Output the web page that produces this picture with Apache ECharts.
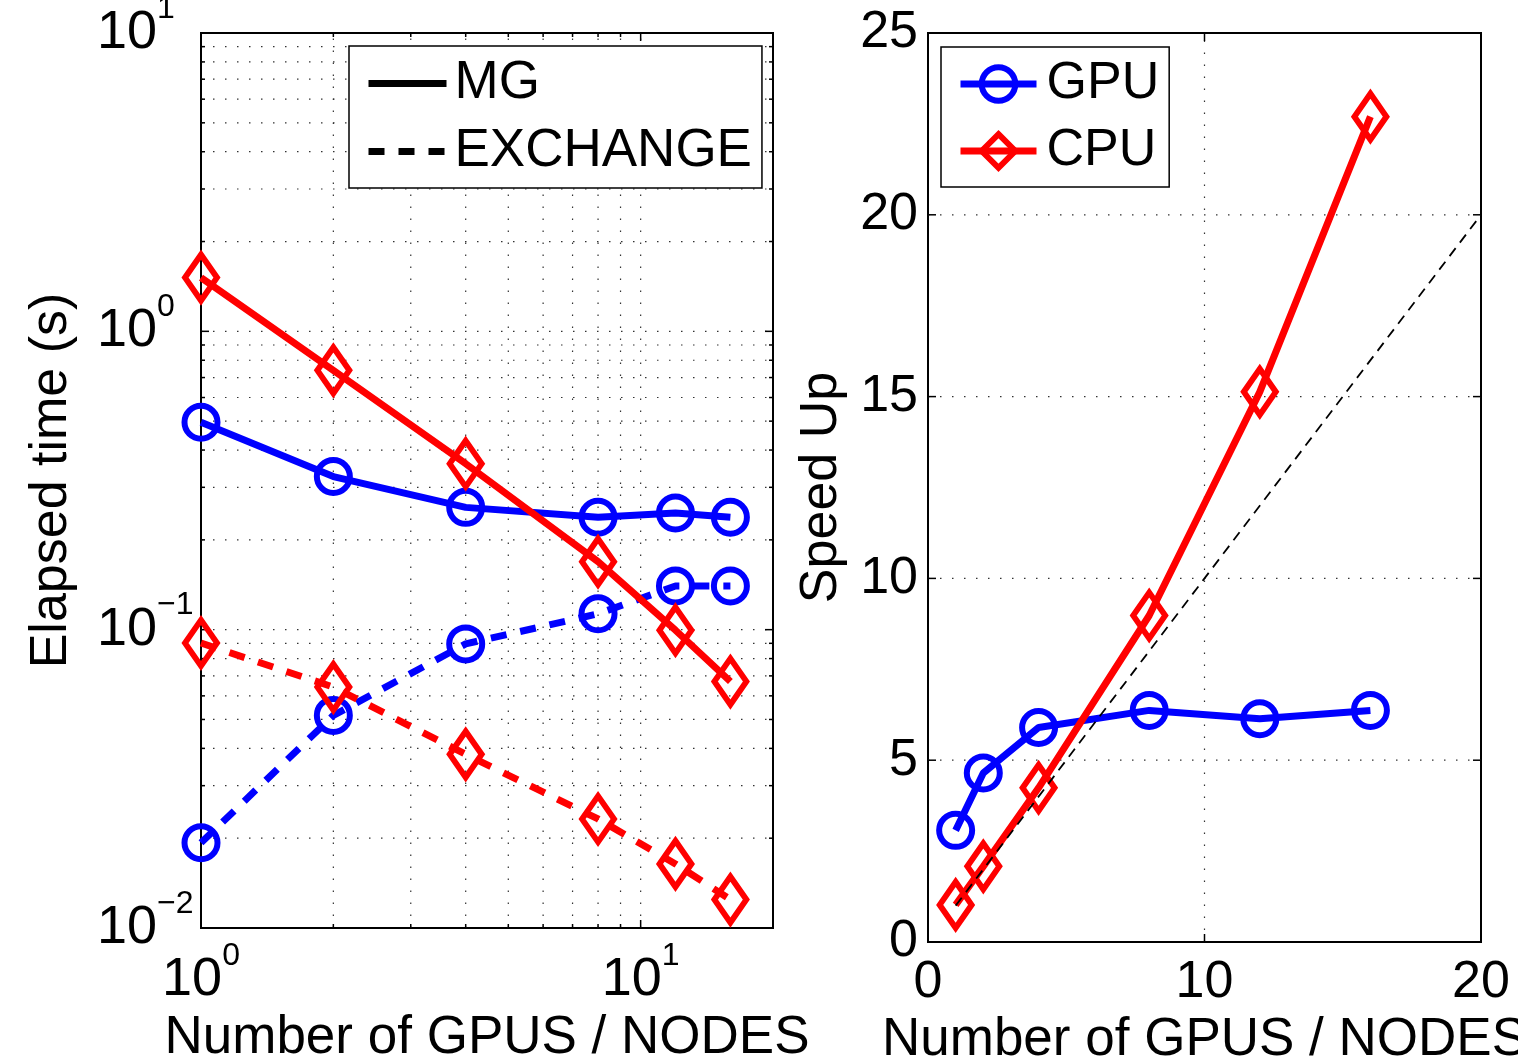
<!DOCTYPE html>
<html>
<head>
<meta charset="utf-8">
<script src="https://cdn.jsdelivr.net/npm/echarts@6/dist/echarts.min.js"></script>
<style>
html, body { margin: 0; padding: 0; background: #fff; overflow: hidden; width: 1518px; height: 1063px; }
#chart { position: absolute; left: 0; top: 0; width: 1518px; height: 1063px; }
</style>
</head>
<body>
<div id="chart"></div>
<script>
// ---------- data ----------
const xCounts = [1, 2, 4, 8, 12, 16];
const gpuMG = [0.496, 0.326, 0.257, 0.238, 0.246, 0.238];
const gpuExchange = [0.0193, 0.0516, 0.0896, 0.113, 0.140, 0.140];
const cpuMG = [1.514, 0.740, 0.360, 0.169, 0.0996, 0.067];
const cpuExchange = [0.0902, 0.0642, 0.0382, 0.0232, 0.0164, 0.01245];
const gpuSpeedup = [3.07, 4.65, 5.90, 6.37, 6.14, 6.37];
const cpuSpeedup = [1.02, 2.08, 4.24, 8.98, 15.13, 22.70];
const idealX = [1, 20];
const idealSpeedup = [1, 20];

// tick values
const leftXTicks = [1, 2, 3, 4, 5, 6, 7, 8, 9, 10, 20];
const leftXMajor = [1, 10];
const leftYTicks = [0.01, 0.02, 0.03, 0.04, 0.05, 0.06, 0.07, 0.08, 0.09,
                    0.1, 0.2, 0.3, 0.4, 0.5, 0.6, 0.7, 0.8, 0.9,
                    1, 2, 3, 4, 5, 6, 7, 8, 9, 10];
const leftYMajor = [0.01, 0.1, 1, 10];
const rightXTicks = [0, 10, 20];
const rightYTicks = [0, 5, 10, 15, 20, 25];

const FONT = "'Liberation Sans', Arial, Helvetica, sans-serif";
const BLUE = '#0000ff';
const RED = '#ff0000';

function pairs(xs, ys) { return xs.map((x, i) => [x, ys[i]]); }

function guideSeries(gi, values, majors, dir, lo) {
  return {
    type: 'custom', xAxisIndex: gi, yAxisIndex: gi, z: 1, silent: true, clip: false,
    data: values.map(v => dir === 'v' ? [v, lo, majors.indexOf(v) >= 0 ? 1 : 0]
                                      : [lo, v, majors.indexOf(v) >= 0 ? 1 : 0]),
    encode: { x: 0, y: 1 },
    renderItem: function (params, api) {
      const cs = params.coordSys;
      const major = api.value(2) === 1;
      const len = major ? 8 : 4;
      const p = api.coord([api.value(0), api.value(1)]);
      const dotted = { stroke: '#333', lineWidth: 1.2, lineDash: [1.5, 10.5], fill: null };
      const solid = { stroke: '#000', lineWidth: 1.5, fill: null };
      const ch = [];
      if (dir === 'v') {
        const x = p[0];
        const yb = cs.y + cs.height, yt = cs.y;
        if (x > cs.x + 2 && x < cs.x + cs.width - 2) {
          ch.push({ type: 'line', shape: { x1: x, y1: yb, x2: x, y2: yt }, style: dotted });
        }
        ch.push({ type: 'line', shape: { x1: x, y1: yb, x2: x, y2: yb - len }, style: solid });
        ch.push({ type: 'line', shape: { x1: x, y1: yt, x2: x, y2: yt + len }, style: solid });
      } else {
        const y = p[1];
        const xl = cs.x, xr = cs.x + cs.width;
        if (y > cs.y + 2 && y < cs.y + cs.height - 2) {
          ch.push({ type: 'line', shape: { x1: xl, y1: y, x2: xr, y2: y }, style: dotted });
        }
        ch.push({ type: 'line', shape: { x1: xl, y1: y, x2: xl + len, y2: y }, style: solid });
        ch.push({ type: 'line', shape: { x1: xr, y1: y, x2: xr - len, y2: y }, style: solid });
      }
      return { type: 'group', children: ch };
    }
  };
}

function powLabel(v) {
  const l = Math.log10(v);
  const e = Math.round(l);
  if (Math.abs(l - e) > 1e-6) return '';
  return '{b|10}{s|' + (e < 0 ? '\u2212' + (-e) : String(e)) + '}';
}
const powRich = {
  b: { fontSize: 54, lineHeight: 80, fontFamily: FONT, color: '#000' },
  s: { fontSize: 32, lineHeight: 32, verticalAlign: 'top', fontFamily: FONT, color: '#000' }
};

const LW = 7;
const BW = 6;
const DASH = [16, 14];

function dataLine(name, gi, data, color, symbol, size, dashed) {
  return {
    name: name, type: 'line', xAxisIndex: gi, yAxisIndex: gi, z: 3,
    data: data, clip: false, silent: true,
    symbol: symbol, symbolSize: size, showAllSymbol: true,
    lineStyle: { color: color, width: LW, type: dashed ? DASH : 'solid' },
    itemStyle: { color: 'rgba(0,0,0,0)', borderColor: color, borderWidth: BW },
    emphasis: { disabled: true }
  };
}

const CIRC = 33;
const DIAM = [32, 46];

const option = {
  animation: false,
  backgroundColor: '#fff',
  textStyle: { fontFamily: FONT },
  grid: [
    { left: 201, top: 33, width: 572, height: 895, containLabel: false, outerBoundsMode: 'none',
      show: true, borderColor: '#000', borderWidth: 2, backgroundColor: 'transparent' },
    { left: 928, top: 33, width: 553, height: 909, containLabel: false, outerBoundsMode: 'none',
      show: true, borderColor: '#000', borderWidth: 2, backgroundColor: 'transparent' }
  ],
  xAxis: [
    {
      type: 'log', logBase: 10, min: 1, max: 20, gridIndex: 0,
      axisLine: { show: false }, axisTick: { show: false }, splitLine: { show: false },
      axisLabel: { formatter: powLabel, rich: powRich, margin: 12, color: '#000' },
      name: 'Number of GPUS / NODES', nameLocation: 'middle', nameGap: 72,
      nameTextStyle: { fontSize: 53, fontFamily: FONT, color: '#000' }
    },
    {
      type: 'value', min: 0, max: 20, interval: 10, gridIndex: 1,
      axisLine: { show: false }, axisTick: { show: false }, splitLine: { show: false },
      axisLabel: { fontSize: 52, fontFamily: FONT, color: '#000', margin: 15 },
      name: 'Number of GPUS / NODES', nameLocation: 'middle', nameGap: 58,
      nameTextStyle: { fontSize: 53, fontFamily: FONT, color: '#000' }
    }
  ],
  yAxis: [
    {
      type: 'log', logBase: 10, min: 0.01, max: 10, gridIndex: 0,
      axisLine: { show: false }, axisTick: { show: false }, splitLine: { show: false },
      axisLabel: { formatter: powLabel, rich: powRich, margin: 104, align: 'left', color: '#000' },
      name: 'Elapsed time (s)', nameLocation: 'middle', nameGap: 123,
      nameTextStyle: { fontSize: 52, fontFamily: FONT, color: '#000' }
    },
    {
      type: 'value', min: 0, max: 25, interval: 5, gridIndex: 1,
      axisLine: { show: false }, axisTick: { show: false }, splitLine: { show: false },
      axisLabel: { fontSize: 52, fontFamily: FONT, color: '#000', margin: 10 },
      name: 'Speed Up', nameLocation: 'middle', nameGap: 80,
      nameTextStyle: { fontSize: 52, fontFamily: FONT, color: '#000' }
    }
  ],
  legend: [
    {
      orient: 'vertical', left: 349, top: 46, data: ['MG', 'EXCHANGE'],
      itemWidth: 78, itemHeight: 42, itemGap: 15, padding: [11, 10, 10, 16],
      borderColor: '#000', borderWidth: 1.5, backgroundColor: '#fff', selectedMode: false,
      textStyle: { fontSize: 53, lineHeight: 50, fontFamily: FONT, color: '#000', padding: [0, 0, 0, 3] },
      lineStyle: { width: LW }
    },
    {
      orient: 'vertical', left: 941, top: 47, data: ['GPU', 'CPU'],
      itemWidth: 76, itemHeight: 42, itemGap: 15, padding: [11, 10, 10, 16],
      borderColor: '#000', borderWidth: 1.5, backgroundColor: '#fff', selectedMode: false,
      textStyle: { fontSize: 52, lineHeight: 50, fontFamily: FONT, color: '#000', padding: [0, 0, 0, 5] },
      lineStyle: { width: LW }, itemStyle: { borderWidth: BW }
    }
  ],
  series: [
    guideSeries(0, leftXTicks, leftXMajor, 'v', 0.01),
    guideSeries(0, leftYTicks, leftYMajor, 'h', 1),
    guideSeries(1, rightXTicks, rightXTicks, 'v', 0),
    guideSeries(1, rightYTicks, rightYTicks, 'h', 0),
    dataLine('GPU MG', 0, pairs(xCounts, gpuMG), BLUE, 'circle', CIRC, false),
    dataLine('GPU EXCHANGE', 0, pairs(xCounts, gpuExchange), BLUE, 'circle', CIRC, true),
    dataLine('CPU MG', 0, pairs(xCounts, cpuMG), RED, 'diamond', DIAM, false),
    dataLine('CPU EXCHANGE', 0, pairs(xCounts, cpuExchange), RED, 'diamond', DIAM, true),
    {
      name: 'MG', type: 'line', xAxisIndex: 0, yAxisIndex: 0, data: [], symbol: 'none',
      lineStyle: { color: '#000', width: LW, type: 'solid' }, itemStyle: { opacity: 0, color: '#000' }
    },
    {
      name: 'EXCHANGE', type: 'line', xAxisIndex: 0, yAxisIndex: 0, data: [], symbol: 'none',
      lineStyle: { color: '#000', width: LW, type: DASH }, itemStyle: { opacity: 0, color: '#000' }
    },
    dataLine('GPU', 1, pairs(xCounts, gpuSpeedup), BLUE, 'circle', CIRC, false),
    dataLine('CPU', 1, pairs(xCounts, cpuSpeedup), RED, 'diamond', DIAM, false),
    {
      name: 'Ideal', type: 'line', xAxisIndex: 1, yAxisIndex: 1, z: 4, silent: true,
      data: pairs(idealX, idealSpeedup), symbol: 'none', clip: false,
      lineStyle: { color: '#000', width: 1.8, type: [10, 7] }
    }
  ]
};

const chart = echarts.init(document.getElementById('chart'), null, { renderer: 'canvas' });
chart.setOption(option);
</script>
</body>
</html>
